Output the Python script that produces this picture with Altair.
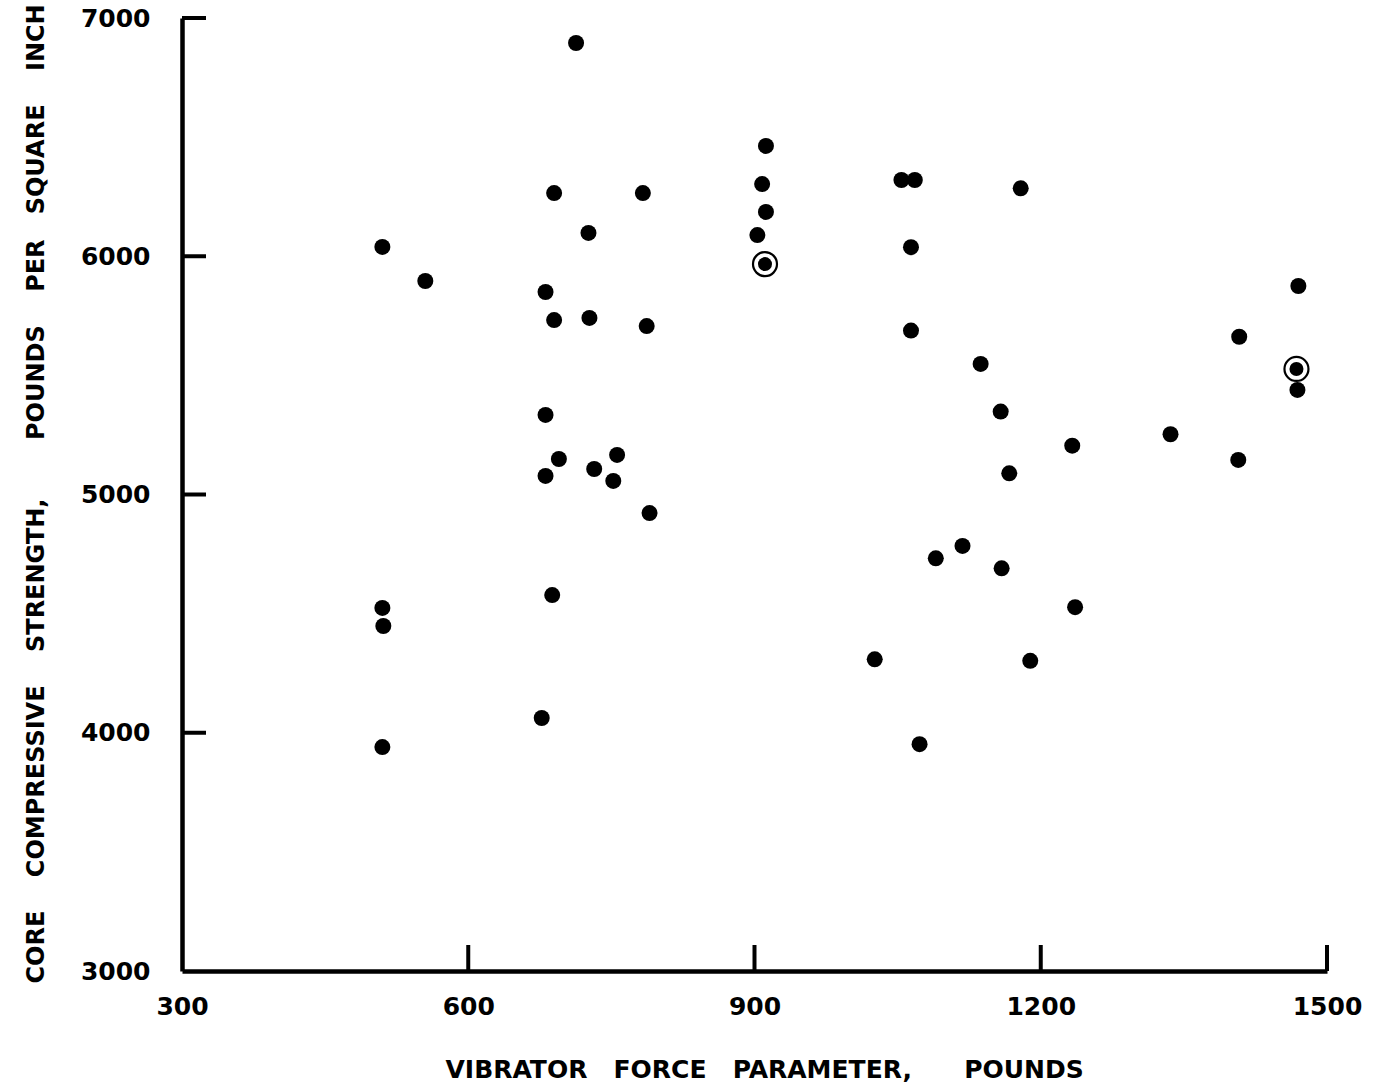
import altair as alt
import pandas as pd

# Vibrator force parameter (pounds) and core compressive strength (psi)
force = [713, 912, 908, 912, 903, 911, 690, 783, 726, 681, 690, 727, 787, 681,
         695, 681, 732, 756, 752, 790, 688, 677, 510, 555, 510, 511, 510,
         1054, 1068, 1179, 1064, 1064, 1137, 1158, 1233, 1167, 1336, 1407, 1408,
         1470, 1468, 1469, 1090, 1118, 1159, 1236, 1026, 1189, 1073]
strength = [6895, 6463, 6303, 6186, 6089, 5967, 6265, 6265, 6098, 5850, 5732, 5741, 5707, 5334,
            5149, 5078, 5107, 5166, 5057, 4922, 4578, 4062, 6039, 5896, 4524, 4448, 3940,
            6320, 6320, 6285, 6038, 5688, 5548, 5348, 5205, 5089, 5253, 5145, 5662,
            5875, 5527, 5439, 4732, 4784, 4690, 4527, 4308, 4302, 3952]
circled = [False, False, False, False, False, True, False, False, False, False, False, False, False, False,
           False, False, False, False, False, False, False, False, False, False, False, False, False,
           False, False, False, False, False, False, False, False, False, False, False, False,
           False, True, False, False, False, False, False, False, False, False]

x_tick_values = [300, 600, 900, 1200, 1500]
y_tick_values = [3000, 4000, 5000, 6000, 7000]
x_inner_ticks = [600, 900, 1200, 1500]
y_inner_ticks = [4000, 5000, 6000, 7000]

df = pd.DataFrame({"force": force, "strength": strength, "circled": circled})
plain = df[~df["circled"]]
marked = df[df["circled"]]

FONT = "DejaVu Sans"
W, H = 1145, 953
NB = "\u00a0"

x_title = "VIBRATOR" + NB * 3 + "FORCE" + NB * 3 + "PARAMETER," + NB * 6 + "POUNDS"
y_title = ("CORE" + NB * 4 + "COMPRESSIVE" + NB * 4 + "STRENGTH," + NB * 7 + "POUNDS"
           + NB * 4 + "PER" + NB * 3 + "SQUARE" + NB * 4 + "INCH")

xscale = alt.Scale(domain=[300, 1500], nice=False, zero=False)
yscale = alt.Scale(domain=[3000, 7000], nice=False, zero=False)

x_axis = alt.Axis(values=x_tick_values, format="d", ticks=False, tickSize=0, grid=False,
                  domainColor="black", domainWidth=4.5, labelFont=FONT, labelFontSize=25,
                  labelFontWeight="bold", labelColor="black", labelPadding=23,
                  labelFlush=False, labelOverlap=False,
                  title=x_title, titleFont=FONT, titleFontSize=25, titleFontWeight="bold",
                  titleColor="black", titleAlign="left", titleBaseline="alphabetic",
                  titleX=263, titleY=106, titleAngle=0)
y_axis = alt.Axis(values=y_tick_values, format="d", ticks=False, tickSize=0, grid=False,
                  domainColor="black", domainWidth=4.5, labelFont=FONT, labelFontSize=25,
                  labelFontWeight="bold", labelColor="black", labelPadding=32,
                  labelFlush=False, labelOverlap=False,
                  title=y_title, titleFont=FONT, titleFontSize=24, titleFontWeight="bold",
                  titleColor="black", titleAngle=270, titleAlign="left",
                  titleBaseline="alphabetic", titleX=-139, titleY=965)

dots = alt.Chart(plain).mark_point(filled=True, shape="circle", size=256, color="black", opacity=1).encode(
    x=alt.X("force:Q", scale=xscale, axis=x_axis),
    y=alt.Y("strength:Q", scale=yscale, axis=y_axis),
)
inner = alt.Chart(marked).mark_point(filled=True, shape="circle", size=196, color="black", opacity=1).encode(
    x=alt.X("force:Q", scale=xscale, axis=x_axis),
    y=alt.Y("strength:Q", scale=yscale, axis=y_axis),
)
ring = alt.Chart(marked).mark_point(filled=False, shape="circle", size=576, color="black",
                                    strokeWidth=2.2, opacity=1).encode(
    x=alt.X("force:Q", scale=xscale, axis=x_axis),
    y=alt.Y("strength:Q", scale=yscale, axis=y_axis),
)
xt = alt.Chart(pd.DataFrame({"force": x_inner_ticks})).mark_rule(color="black", strokeWidth=4).encode(
    x=alt.X("force:Q", scale=xscale, axis=x_axis),
    y=alt.value(H),
    y2=alt.value(H - 26),
)
yt = alt.Chart(pd.DataFrame({"strength": y_inner_ticks})).mark_rule(color="black", strokeWidth=4).encode(
    y=alt.Y("strength:Q", scale=yscale, axis=y_axis),
    x=alt.value(0),
    x2=alt.value(24),
)

chart = alt.layer(dots, inner, ring, xt, yt).properties(
    width=W, height=H,
    autosize=alt.AutoSizeParams(type="none"),
    padding={"left": 182, "top": 18, "right": 52, "bottom": 120},
    background="white",
).configure_view(stroke=None)

chart.save("out.html", embed_options={"renderer": "svg", "actions": False})
